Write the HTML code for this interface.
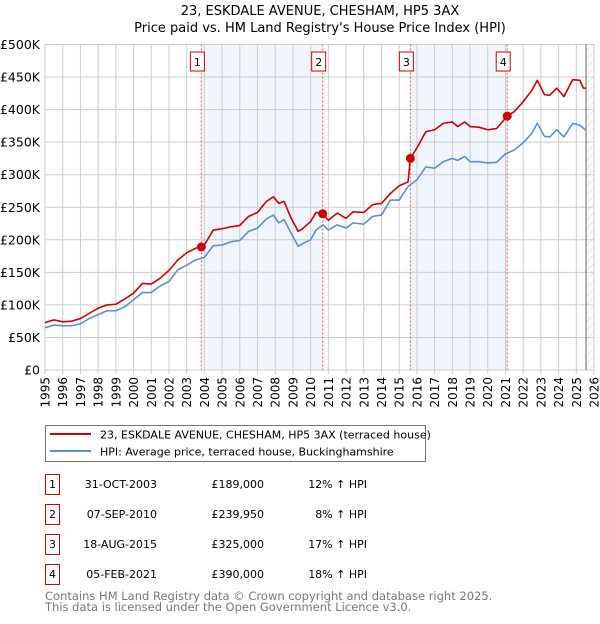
<!DOCTYPE html>
<html><head><meta charset="utf-8"><style>
body{margin:0;background:#fff;width:600px;height:620px;overflow:hidden;font-family:"DejaVu Sans","Liberation Sans",sans-serif;}
svg text{font-family:"DejaVu Sans","Liberation Sans",sans-serif;}
</style></head><body>
<svg id="chart" width="600" height="620" xmlns="http://www.w3.org/2000/svg">
<text x="320" y="15" font-size="13" text-anchor="middle">23, ESKDALE AVENUE, CHESHAM, HP5 3AX</text>
<text x="320" y="32" font-size="13" text-anchor="middle">Price paid vs. HM Land Registry's House Price Index (HPI)</text>
<defs><pattern id="hatch" patternUnits="userSpaceOnUse" width="6" height="6" patternTransform="rotate(45)"><line x1="0" y1="0" x2="0" y2="6" stroke="#ccc" stroke-width="1"/></pattern></defs>
<g id="plot"></g>
<rect x="45.5" y="425.5" width="380" height="36" fill="#fff" stroke="#777"/>
<line x1="50" y1="434" x2="91" y2="434" stroke="#cc0000" stroke-width="2"/>
<text x="100" y="438.5" font-size="11">23, ESKDALE AVENUE, CHESHAM, HP5 3AX (terraced house)</text>
<line x1="50" y1="451" x2="91" y2="451" stroke="#5b8fd4" stroke-width="2"/>
<text x="100" y="455.5" font-size="11">HPI: Average price, terraced house, Buckinghamshire</text>
<g id="table" font-size="11"></g>
<text x="45" y="600" font-size="11.5" fill="#777">Contains HM Land Registry data © Crown copyright and database right 2025.</text>
<text x="45" y="611" font-size="11.5" fill="#777">This data is licensed under the Open Government Licence v3.0.</text>
</svg>
<script>
const priceYears=[1995,1995.5,1996,1996.5,1997,1997.5,1998,1998.5,1999,1999.5,2000,2000.5,2001,2001.5,2002,2002.5,2003,2003.5,2003.83,2004,2004.5,2005,2005.5,2006,2006.5,2007,2007.5,2007.9,2008.2,2008.5,2008.9,2009.3,2009.5,2010,2010.3,2010.68,2011,2011.5,2012,2012.4,2013,2013.5,2014,2014.5,2015,2015.5,2015.63,2016,2016.5,2017,2017.5,2018,2018.3,2018.7,2019,2019.5,2020,2020.5,2021.1,2021.5,2022,2022.5,2022.8,2023.2,2023.5,2023.9,2024.3,2024.8,2025.2,2025.4,2025.55];
const priceValues=[72.7,77,74,75,79,87,95,100,101,109,118,133,132,141,153,169,180,187,189,192,215,217,220,222,236,242,259,266,256,259,233,213,216,228,242,240,230,241,233,243,242,254,256,271,283,289,325,341,366,369,379,381,374,381,374,373,369,371,390,397,412,430,445,423,422,433,420,446,445,433,433];
const hpiYears=[1995,1995.5,1996,1996.5,1997,1997.5,1998,1998.5,1999,1999.5,2000,2000.5,2001,2001.5,2002,2002.5,2003,2003.5,2004,2004.5,2005,2005.5,2006,2006.5,2007,2007.5,2007.9,2008.2,2008.5,2008.9,2009.3,2009.6,2010,2010.3,2010.7,2011,2011.5,2012,2012.4,2013,2013.5,2014,2014.5,2015,2015.5,2016,2016.5,2017,2017.5,2018,2018.3,2018.7,2019,2019.5,2020,2020.5,2021,2021.5,2022,2022.5,2022.8,2023.2,2023.5,2023.9,2024.3,2024.8,2025.2,2025.55];
const hpiValues=[65,69,68,68,71,79,85,91,91,97,108,119,119,129,136,154,161,169,173,191,192,197,199,213,218,232,238,226,231,210,190,195,200,215,223,215,223,218,226,224,236,238,261,261,282,292,312,310,320,325,322,328,320,320,318,319,332,338,349,364,379,359,358,369,358,379,376,368];
const saleLabels=["1","2","3","4"];
const saleYears=[2003.83,2010.68,2015.63,2021.1];
const salePrices=[189,239.95,325,390];
const saleDates=["31-OCT-2003","07-SEP-2010","18-AUG-2015","05-FEB-2021"];
const salePriceText=["£189,000","£239,950","£325,000","£390,000"];
const saleHpiText=["12% ↑ HPI","8% ↑ HPI","17% ↑ HPI","18% ↑ HPI"];
const yTicks=[0,50,100,150,200,250,300,350,400,450,500];
const yTickLabels=["£0","£50K","£100K","£150K","£200K","£250K","£300K","£350K","£400K","£450K","£500K"];
const xTicks=[1995,1996,1997,1998,1999,2000,2001,2002,2003,2004,2005,2006,2007,2008,2009,2010,2011,2012,2013,2014,2015,2016,2017,2018,2019,2020,2021,2022,2023,2024,2025,2026];
const dataEnd=2025.55;

const NS="http://www.w3.org/2000/svg";
const X0=45,X1=594,Y0=370,Y1=44.5;
const xs=v=>X0+(v-1995)/(2026-1995)*(X1-X0);
const ys=v=>Y0-v/500*(Y0-Y1);
const plot=document.getElementById('plot');
function mk(tag,attrs,parent){const e=document.createElementNS(NS,tag);for(const k in attrs)e.setAttribute(k,attrs[k]);(parent||plot).appendChild(e);return e;}
for(let i=0;i<saleYears.length;i+=2){
  const a=saleYears[i],b=saleYears[i+1];
  const r=mk('rect',{x:xs(a),y:Y1,width:xs(b)-xs(a),height:Y0-Y1,fill:'#eef3fc',opacity:0.8});
  
  
}
const h=mk('rect',{x:xs(dataEnd),y:Y1,width:X1-xs(dataEnd),height:Y0-Y1,fill:'url(#hatch)'});


xTicks.forEach((t,i)=>{
  const l=mk('line',{x1:xs(t),x2:xs(t),y1:Y1,y2:Y0+4,stroke:'#ccc'});
  
  
  const tx=mk('text',{x:0,y:0,'font-size':12,'text-anchor':'end',transform:`translate(${xs(t)+4.5},${Y0+7}) rotate(-90)`});
  tx.textContent=t;
  
  
});
yTicks.forEach((t,i)=>{
  const l=mk('line',{x1:X0,x2:X1,y1:ys(t),y2:ys(t),stroke:'#ccc'});
  
  
  const tx=mk('text',{x:40,y:ys(t)+4.5,'font-size':12.5,'text-anchor':'end'});
  tx.textContent=yTickLabels[i];
  
  
});
const el=mk('line',{x1:xs(dataEnd),x2:xs(dataEnd),y1:Y1,y2:Y0,stroke:'#666'});


saleYears.forEach((s,i)=>{
  const l=mk('line',{x1:xs(s),x2:xs(s),y1:Y1,y2:Y0,stroke:'#e55','stroke-dasharray':'2,2','stroke-width':1});
  
  
  const bx=mk('rect',{x:xs(s)-11,y:52,width:14,height:19,fill:'#fff',stroke:'#cc0000'});
  
  
  const t=mk('text',{x:xs(s)-4,y:66,'font-size':11,'text-anchor':'middle'});
  t.textContent=saleLabels[i];
  
  
});
function line(xsArr,vals,color,name){
  const p=mk('polyline',{points:xsArr.map((x,i)=>xs(x)+','+ys(vals[i])).join(' '),fill:'none',stroke:color,'stroke-width':1.6,'stroke-linejoin':'round'});
  
  
}
line(hpiYears,hpiValues,'#5b8fd4','hpi-line');
line(priceYears,priceValues,'#cc0000','price-line');
saleYears.forEach((s,i)=>{
  const c=mk('circle',{cx:xs(s),cy:ys(salePrices[i]),r:4.5,fill:'#cc0000'});
  
  
});
const tb=document.getElementById('table');
saleLabels.forEach((lab,i)=>{
  const cy=484+i*30;
  const b=mk('rect',{x:45.5,y:cy-9.5,width:14,height:20,fill:'#fff',stroke:'#cc0000'},tb);
  
  
  const cells=[[52.5,lab,'middle'],[157,saleDates[i],'end'],[264,salePriceText[i],'end'],[367,saleHpiText[i],'end']];
  cells.forEach(c=>{
    const t=mk('text',{x:c[0],y:cy+4,'text-anchor':c[2]},tb);
    t.textContent=c[1];
    
    
  });
});
</script>
</body></html>
